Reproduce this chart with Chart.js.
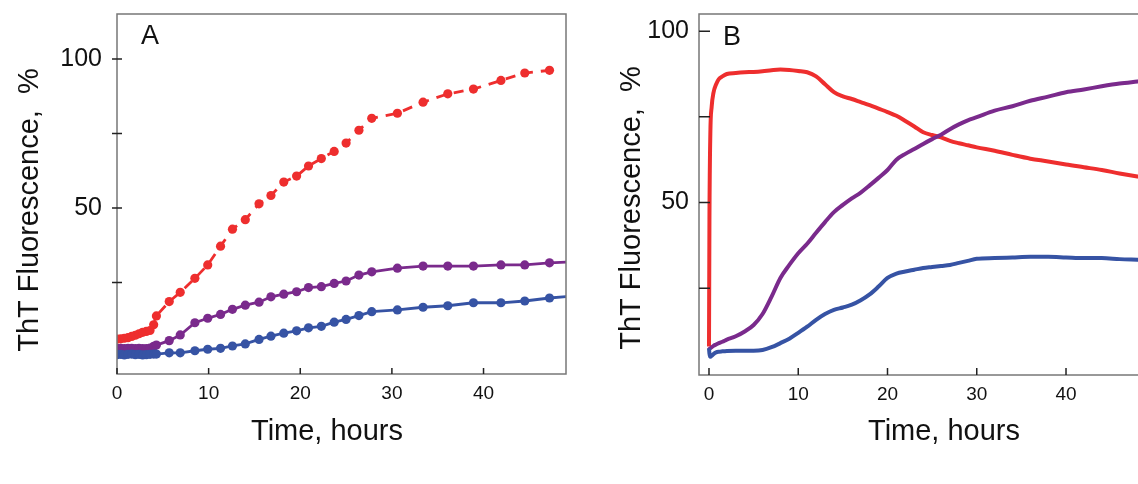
<!DOCTYPE html>
<html lang="en">
<head>
<meta charset="UTF-8">
<title>ThT fluorescence kinetics</title>
<style>
    html, body {
        margin: 0;
        padding: 0;
        background: #fff;
        width: 1138px;
        height: 484px;
        overflow: hidden;
    }
    canvas {
        position: absolute;
        top: 0;
    }
    #chartA { left: 0; }
    #chartB { left: 600px; }
</style>
<script src="https://cdn.jsdelivr.net/npm/chart.js"></script>
</head>
<body>

<canvas id="chartA" width="600" height="484"></canvas>
<canvas id="chartB" width="600" height="484"></canvas>

<script>
// ---- panel A: sampled points (hours, % ThT fluorescence)
const timeA = [0, 0.4, 0.8, 1.2, 1.6, 2.0, 2.4, 2.8, 3.2, 3.6, 4.0, 4.3, 5.7, 6.9, 8.5, 9.9, 11.3, 12.6,
               14.0, 15.5, 16.8, 18.2, 19.6, 20.9, 22.3, 23.7, 25.0, 26.4, 27.8, 30.6, 33.4, 36.1, 38.9,
               41.9, 44.5, 47.2];
const redA = [6.0, 6.1, 6.3, 6.5, 6.9, 7.3, 7.8, 8.3, 8.6, 8.9, 10.8, 13.8, 18.6, 21.7, 26.4, 30.9, 37.2,
              42.9, 46.1, 51.4, 54.2, 58.7, 60.7, 64.1, 66.6, 69.0, 71.8, 76.1, 80.1, 81.8, 85.5, 88.3,
              89.9, 92.8, 95.3, 96.2];
const purpleA = [2.9, 2.9, 2.8, 2.9, 2.9, 2.8, 2.9, 2.8, 2.8, 3.0, 3.6, 4.0, 5.5, 7.4, 11.5, 13.0, 14.3,
                 16.0, 17.4, 18.4, 20.2, 21.1, 21.9, 23.3, 23.6, 24.7, 25.5, 27.5, 28.6, 29.8, 30.5, 30.5,
                 30.5, 30.9, 30.9, 31.6];
const blueA = [0.8, 0.9, 0.7, 0.9, 1.0, 0.8, 0.9, 0.7, 0.8, 0.9, 1.0, 1.0, 1.4, 1.4, 2.1, 2.6, 2.9, 3.7,
               4.4, 5.9, 7.0, 8.0, 8.8, 9.8, 10.3, 11.7, 12.6, 13.9, 15.2, 15.8, 16.7, 17.2, 18.2, 18.2,
               18.8, 19.8];
// lines run on past the last marker to the frame
const tailTimeA = 49.5;
const purpleTailA = 31.9;
const blueTailA = 20.4;

// ---- panel B: continuous traces
const timeB = [0, 0.05, 0.15, 0.3, 0.5, 0.8, 1.1, 1.5, 2, 3, 4, 5, 6, 7, 8, 9, 10, 11, 12, 13, 14, 15,
               16, 17, 18, 19, 20, 21, 22, 23, 24, 25, 26, 27, 28, 29, 30, 32, 34, 36, 38, 40, 42, 44,
               46, 48, 50];
const redB = [8.0, 45, 70, 78, 82, 84.5, 86.0, 86.8, 87.5, 87.8, 88.0, 88.1, 88.3, 88.6, 88.8, 88.7,
              88.4, 88.0, 86.8, 84.5, 82.2, 81.0, 80.2, 79.3, 78.4, 77.4, 76.4, 75.3, 73.8, 72.2, 70.5,
              69.7, 69.0, 68.0, 67.3, 66.7, 66.1, 65.1, 63.9, 62.8, 62.0, 61.1, 60.3, 59.5, 58.5, 57.6,
              56.8];
const purpleB = [7.0, 7.3, 7.5, 7.8, 8.2, 8.6, 9.0, 9.4, 10.0, 11.0, 12.4, 14.3, 17.5, 22.5, 28.0, 31.8,
                 35.2, 38.0, 41.2, 44.3, 47.2, 49.3, 51.2, 52.9, 55.0, 57.2, 59.5, 62.5, 64.2, 65.6, 67.1,
                 68.5, 69.8, 71.4, 72.8, 74.0, 74.9, 76.8, 78.1, 79.7, 80.9, 82.2, 83.0, 83.9, 84.7, 85.3,
                 85.9];
const blueB = [7.5, 6.0, 5.0, 5.3, 5.8, 6.3, 6.5, 6.6, 6.7, 6.8, 6.8, 6.8, 7.0, 7.8, 9.0, 10.3, 12.0,
               13.8, 15.8, 17.5, 18.7, 19.4, 20.2, 21.5, 23.2, 25.5, 28.0, 29.3, 29.9, 30.4, 30.9, 31.2,
               31.5, 31.8, 32.4, 33.0, 33.6, 33.8, 34.0, 34.2, 34.2, 34.0, 33.8, 33.8, 33.5, 33.3, 33.1];

// ---- axes
const xTickValues = [0, 10, 20, 30, 40];
const yTickValues = [25, 50, 75, 100];
const yTickLabels = { 50: '50', 100: '100' };

const RED = '#ee2e2e';
const PURPLE = '#7a2a8c';
const BLUE = '#3653a4';
const FONT = "'Liberation Sans', Arial, sans-serif";

function pts(xs, ys) {
    return xs.map((x, i) => ({ x: x, y: ys[i] }));
}

// keep tick labels from pushing the plot area around
function noLabelPadding(s) {
    s.paddingTop = 0;
    s.paddingBottom = 0;
    s.paddingLeft = 0;
    s.paddingRight = 0;
}

// frame, inward tick marks, panel letter and axis titles
const decorPlugin = {
    id: 'decor',
    afterDatasetsDraw(chart, args, o) {
        const { ctx, chartArea: a, scales } = chart;
        ctx.save();
        ctx.strokeStyle = '#777';
        ctx.lineWidth = 1.5;
        ctx.strokeRect(a.left, a.top, a.right - a.left, a.bottom - a.top);

        ctx.strokeStyle = '#222';
        ctx.lineWidth = 1.5;
        ctx.beginPath();
        xTickValues.forEach(v => {
            const px = scales.x.getPixelForValue(v);
            ctx.moveTo(px, a.bottom);
            ctx.lineTo(px, a.bottom - o.xTickIn);
        });
        yTickValues.forEach(v => {
            const py = scales.y.getPixelForValue(v);
            ctx.moveTo(a.left - o.yTickOut, py);
            ctx.lineTo(a.left + o.yTickIn, py);
        });
        ctx.stroke();

        ctx.fillStyle = '#111';
        ctx.textAlign = 'center';
        ctx.textBaseline = 'middle';
        ctx.font = '27px ' + FONT;
        ctx.fillText(o.letter, o.letterX, o.letterY);

        ctx.font = '29px ' + FONT;
        ctx.textBaseline = 'alphabetic';
        ctx.fillText('Time, hours', o.xTitleX, o.xTitleY);

        ctx.translate(o.yTitleX, o.yTitleY);
        ctx.rotate(-Math.PI / 2);
        ctx.fillText('ThT Fluorescence,  %', 0, 0);
        ctx.restore();
    }
};

function makeOptions(cfg) {
    return {
        responsive: false,
        animation: false,
        devicePixelRatio: 1,
        layout: { padding: { left: 0, right: cfg.padRight, top: cfg.padTop, bottom: 0 } },
        plugins: {
            legend: { display: false },
            tooltip: { enabled: false },
            decor: cfg.decor
        },
        scales: {
            x: {
                type: 'linear',
                min: cfg.xMin,
                max: cfg.xMax,
                afterFit: s => { s.height = cfg.xHeight; noLabelPadding(s); },
                afterBuildTicks: s => { s.ticks = xTickValues.map(v => ({ value: v })); },
                grid: { display: false, drawTicks: false },
                border: { display: false },
                ticks: {
                    color: '#111',
                    padding: 8,
                    maxRotation: 0,
                    font: { family: FONT, size: 19 }
                }
            },
            y: {
                type: 'linear',
                min: cfg.yMin,
                max: cfg.yMax,
                afterFit: s => { s.width = cfg.yWidth; noLabelPadding(s); },
                afterBuildTicks: s => { s.ticks = yTickValues.map(v => ({ value: v })); },
                grid: { display: false, drawTicks: false },
                border: { display: false },
                ticks: {
                    color: '#111',
                    padding: cfg.yPad,
                    font: { family: FONT, size: 25 },
                    callback: v => yTickLabels[v] || ''
                }
            }
        }
    };
}

const markerSize = ctx => (ctx.dataIndex < timeA.length ? 4.6 : 0);

new Chart(document.getElementById('chartA'), {
    type: 'line',
    data: {
        datasets: [
            {
                data: pts(timeA, blueA).concat({ x: tailTimeA, y: blueTailA }),
                borderColor: BLUE, backgroundColor: BLUE, borderWidth: 2.8,
                pointRadius: markerSize, pointBorderWidth: 0, tension: 0
            },
            {
                data: pts(timeA, purpleA).concat({ x: tailTimeA, y: purpleTailA }),
                borderColor: PURPLE, backgroundColor: PURPLE, borderWidth: 2.8,
                pointRadius: markerSize, pointBorderWidth: 0, tension: 0
            },
            {
                data: pts(timeA, redA),
                borderColor: RED, backgroundColor: RED, borderWidth: 2.8,
                borderDash: [10, 8],
                pointRadius: 4.6, pointBorderWidth: 0, tension: 0
            }
        ]
    },
    options: makeOptions({
        padRight: 34, padTop: 14, xHeight: 110, yWidth: 117, yPad: 15,
        xMin: 0, xMax: 49, yMin: -5.7, yMax: 115.1,
        decor: {
            xTickIn: 6, yTickIn: 5, yTickOut: 5,
            letter: 'A', letterX: 150, letterY: 37,
            xTitleX: 327, xTitleY: 440,
            yTitleX: 38, yTitleY: 210
        }
    }),
    plugins: [decorPlugin]
});

new Chart(document.getElementById('chartB'), {
    type: 'line',
    data: {
        datasets: [
            {
                data: pts(timeB, blueB),
                borderColor: BLUE, borderWidth: 4, pointRadius: 0,
                cubicInterpolationMode: 'monotone'
            },
            {
                data: pts(timeB, purpleB),
                borderColor: PURPLE, borderWidth: 4, pointRadius: 0,
                cubicInterpolationMode: 'monotone'
            },
            {
                data: pts(timeB, redB),
                borderColor: RED, borderWidth: 4, pointRadius: 0,
                cubicInterpolationMode: 'monotone'
            }
        ]
    },
    options: makeOptions({
        padRight: 11, padTop: 14, xHeight: 109, yWidth: 99, yPad: 10,
        xMin: -1.12, xMax: 53.78, yMin: -0.3, yMax: 105,
        decor: {
            xTickIn: 7, yTickIn: 11, yTickOut: 0,
            letter: 'B', letterX: 132, letterY: 38,
            xTitleX: 344, xTitleY: 440,
            yTitleX: 40, yTitleY: 208
        }
    }),
    plugins: [decorPlugin]
});
</script>

</body>
</html>
